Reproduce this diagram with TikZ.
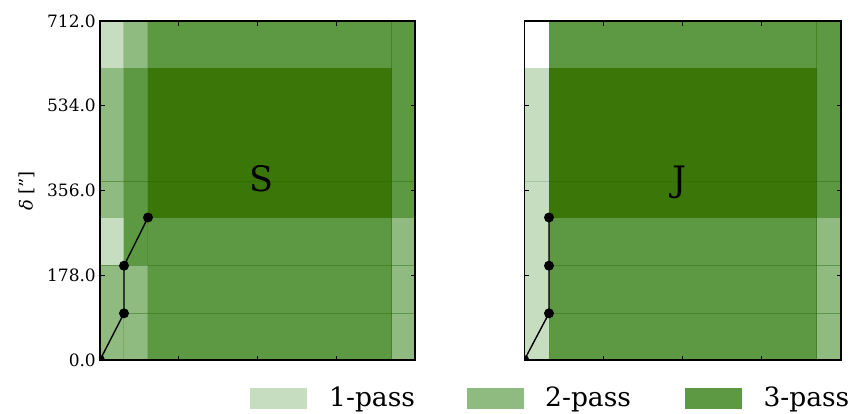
\documentclass[tikz,border=0pt]{standalone}
\usepackage{fontspec}
\setmainfont{DejaVu Serif}
\definecolor{cone}{RGB}{198,221,192}
\definecolor{ctwo}{RGB}{143,187,128}
\definecolor{cthree}{RGB}{93,153,66}
\definecolor{cfour}{RGB}{58,118,8}
\definecolor{cedge}{RGB}{40,105,5}
\begin{document}
\begin{tikzpicture}[x=1pt,y=-1pt,
 edge/.style={draw=cedge, opacity=0.45, line width=0.9pt},
 faintedge/.style={draw=cedge, opacity=0.2, line width=0.8pt},
 frame/.style={draw=black, line width=1.3pt},
 tickmark/.style={draw=black, line width=1pt},
 ticklab/.style={anchor=east, font=\fontsize{17}{17}\selectfont, inner sep=0, text=black},
 dot/.style={circle, fill=black, inner sep=0, minimum size=10pt},
 dataline/.style={draw=black, line width=1.4pt},
 legtext/.style={anchor=base west, font=\fontsize{26.5}{26.5}\selectfont, inner sep=0, text=black},
 legpatch/.style={inner sep=0, minimum width=57pt, minimum height=21.7pt},
 bandlabel/.style={anchor=base, font=\fontsize{35}{35}\selectfont, inner sep=0}
]
\useasboundingbox (0,0) rectangle (855,413);
% ---------- left panel fills ----------
\fill[cone]   (100,21)    rectangle (123.8,67.7);
\fill[ctwo]   (100,67.7)  rectangle (123.8,217.5);
\fill[cone]   (100,217.5) rectangle (123.8,265);
\fill[ctwo]   (100,265)   rectangle (123.8,360);
\fill[ctwo]   (123.8,21)  rectangle (147.5,67.7);
\fill[cthree] (123.8,67.7) rectangle (147.5,265);
\fill[ctwo]   (123.8,265) rectangle (147.5,360);
\fill[cthree] (147.5,21)  rectangle (391.7,67.7);
\fill[cfour]  (147.5,67.7) rectangle (391.7,217.5);
\fill[cthree] (147.5,217.5) rectangle (391.7,360);
\fill[cthree] (391.7,21)  rectangle (415,217.5);
\fill[ctwo]   (391.7,217.5) rectangle (415,360);
% ---------- right panel fills ----------
\fill[cone]   (524.3,67.7) rectangle (549,360);
\fill[cthree] (549,21)    rectangle (816.7,67.7);
\fill[cfour]  (549,67.7)  rectangle (816.7,217.5);
\fill[cthree] (549,217.5) rectangle (816.7,360);
\fill[cthree] (816.7,21)  rectangle (841,217.5);
\fill[ctwo]   (816.7,217.5) rectangle (841,360);
% ---------- tile edges ----------
\draw[edge] (100,181.7) -- (415,181.7);
\draw[edge] (100,265) -- (415,265);
\draw[edge] (123.8,313.3) -- (415,313.3);
\draw[edge] (391.7,21) -- (391.7,360);
\draw[faintedge] (123.8,21) -- (123.8,360);
\draw[faintedge] (147.5,21) -- (147.5,360);
\draw[faintedge] (524.3,181.7) -- (549,181.7);
\draw[edge] (549,181.7) -- (841,181.7);
\draw[edge] (549,265) -- (841,265);
\draw[edge] (549,313.3) -- (841,313.3);
\draw[edge] (816.7,21) -- (816.7,360);
\draw[faintedge] (549,67.7) -- (549,360);
% ---------- dither pattern ----------
\begin{scope}
\clip (100,21) rectangle (415,360);
\node[dot] (s0) at (100,360) {};
\node[dot] (s1) at (124,313.3) {};
\node[dot] (s2) at (124,265.7) {};
\node[dot] (s3) at (148,217.5) {};
\draw[dataline] (s0.center) -- (s1.center) -- (s2.center) -- (s3.center);
\end{scope}
\begin{scope}
\clip (524.3,21) rectangle (841,360);
\node[dot] (j0) at (524.3,360) {};
\node[dot] (j1) at (549,313.3) {};
\node[dot] (j2) at (549,265.7) {};
\node[dot] (j3) at (549,217.5) {};
\draw[dataline] (j0.center) -- (j1.center) -- (j2.center) -- (j3.center);
\end{scope}
% ---------- frames and ticks ----------
\draw[frame] (100,21) rectangle (415,360);
\draw[frame] (524.3,21) rectangle (841,360);
\foreach \yy in {105.75,190.5,275.25}{
  \draw[tickmark] (100,\yy) -- (104.5,\yy);
  \draw[tickmark] (415,\yy) -- (410.5,\yy);
  \draw[tickmark] (524.3,\yy) -- (528.8,\yy);
  \draw[tickmark] (841,\yy) -- (836.5,\yy);
}
\foreach \xx in {178.75,257.5,336.25}{
  \draw[tickmark] (\xx,21) -- (\xx,25.5);
  \draw[tickmark] (\xx,360) -- (\xx,355.5);
}
\foreach \xx in {603.5,682.7,761.8}{
  \draw[tickmark] (\xx,21) -- (\xx,25.5);
  \draw[tickmark] (\xx,360) -- (\xx,355.5);
}
% ---------- labels ----------
\node[ticklab] (t712) at (96,21) {712.0};
\node[ticklab] (t534) at (96,105.75) {534.0};
\node[ticklab] (t356) at (96,190.5) {356.0};
\node[ticklab] (t178) at (96,275.25) {178.0};
\node[ticklab] (t0) at (96,360) {0.0};
\node[rotate=90, font=\fontsize{18}{18}\selectfont, inner sep=0, text=black] (ylab) at (27,191) {{\itshape δ} [\symbol{34}]};
\node[bandlabel] (S) at (261.7,191.7) {S};
\node[bandlabel] (J) at (680,191.5) {J};
% ---------- legend ----------
\node[legpatch, fill=cone, anchor=north west] (l1) at (249.3,387.3) {};
\node[legtext] (l1t) at (329,406.7) {1-pass};
\node[legpatch, fill=ctwo, anchor=north west] (l2) at (466.7,387.3) {};
\node[legtext] (l2t) at (545,406.7) {2-pass};
\node[legpatch, fill=cthree, anchor=north west] (l3) at (685,387.3) {};
\node[legtext] (l3t) at (763.3,406.7) {3-pass};
\end{tikzpicture}
\end{document}
